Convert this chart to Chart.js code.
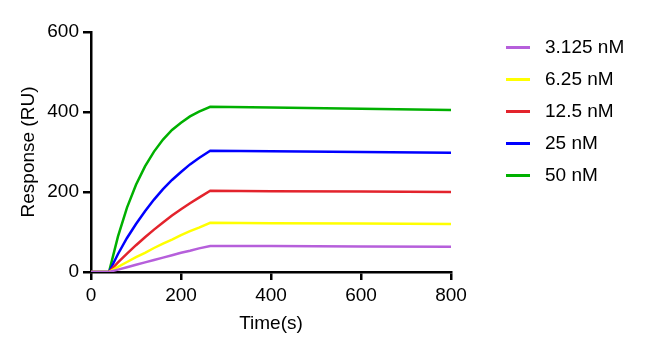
<!DOCTYPE html>
<html>
<head>
<meta charset="utf-8">
<script src="https://cdn.jsdelivr.net/npm/chart.js@4.4.1/dist/chart.umd.min.js"></script>
<style>
    html, body { margin: 0; padding: 0; background: #fff; }
    .wrap { position: relative; width: 648px; height: 354px; }
    .legend { position: absolute; left: 0; top: 0; font-family: Arial, "Liberation Sans", sans-serif; font-size: 19px; color: #000; }
    .legend .row { position: absolute; left: 506px; height: 24px; width: 140px; }
    .legend .swatch { position: absolute; left: 0; top: 11px; width: 24px; height: 2.5px; }
    .legend .txt { position: absolute; left: 39px; top: 0; line-height: 24px; white-space: nowrap; }
</style>
</head>
<body>
<div class="wrap">
    <canvas id="chart" width="648" height="354"></canvas>
    <div class="legend" id="legend"></div>
</div>
<script>
const TIMES = [0, 40, 60, 80, 100, 120, 140, 160, 180, 200, 220, 240, 265, 400, 600, 800];

const SERIES_LABELS = ['3.125 nM', '6.25 nM', '12.5 nM', '25 nM', '50 nM'];
const SERIES_COLORS = ['#b65fdb', '#ffff00', '#e3232c', '#0000ff', '#00b000'];

const RESP_3125 = [0, 0, 6, 12, 18, 24, 30, 36, 42, 48, 53, 59, 65, 65, 64, 63];
const RESP_625 = [0, 0, 13, 25, 37, 48, 60, 71, 81, 92, 102, 111, 123, 122, 121, 120];
const RESP_125 = [0, 0, 24, 46, 67, 87, 106, 124, 141, 157, 172, 186, 203, 202, 201, 200];
const RESP_25 = [0, 0, 45, 85, 120, 152, 181, 207, 230, 250, 269, 285, 303, 302, 300, 298];
const RESP_50 = [0, 0, 89, 161, 218, 264, 301, 331, 355, 373, 389, 401, 413, 411, 408, 405];

const X_TICKS = [0, 200, 400, 600, 800];
const Y_TICKS = [0, 200, 400, 600];

const FONT_FAMILY = 'Arial, "Liberation Sans", sans-serif';
const AXIS_WIDTH = 2.5;

const LEGEND_TOPS = [35, 67, 99, 131, 163];

function toPoints(values) {
    return TIMES.map((t, i) => ({ x: t, y: values[i] }));
}

function buildLegend() {
    const legend = document.getElementById('legend');
    SERIES_LABELS.forEach((label, i) => {
        const row = document.createElement('div');
        row.className = 'row';
        row.style.top = LEGEND_TOPS[i] + 'px';
        const swatch = document.createElement('div');
        swatch.className = 'swatch';
        swatch.style.background = SERIES_COLORS[i];
        const txt = document.createElement('div');
        txt.className = 'txt';
        txt.textContent = label;
        row.appendChild(swatch);
        row.appendChild(txt);
        legend.appendChild(row);
    });
}

function axisCommon() {
    return {
        type: 'linear',
        border: { display: true, color: '#000', width: AXIS_WIDTH },
        grid: {
            display: true,
            drawOnChartArea: false,
            drawTicks: true,
            tickLength: 8,
            color: '#000',
            lineWidth: AXIS_WIDTH
        },
        ticks: {
            color: '#000',
            font: { family: FONT_FAMILY, size: 19 }
        }
    };
}

function initChart() {
    const allSeries = [RESP_3125, RESP_625, RESP_125, RESP_25, RESP_50];

    const datasets = allSeries.map((values, i) => ({
        label: SERIES_LABELS[i],
        data: toPoints(values),
        borderColor: SERIES_COLORS[i],
        backgroundColor: SERIES_COLORS[i],
        borderWidth: 2.5,
        pointRadius: 0,
        fill: false,
        tension: 0
    }));

    const xAxis = axisCommon();
    xAxis.min = 0;
    xAxis.max = 800;
    xAxis.afterBuildTicks = scale => { scale.ticks = X_TICKS.map(v => ({ value: v })); };
    xAxis.ticks.padding = 4;
    xAxis.ticks.maxRotation = 0;
    xAxis.title = {
        display: true,
        text: 'Time(s)',
        color: '#000',
        font: { family: FONT_FAMILY, size: 19 },
        padding: { top: 0, bottom: 19 }
    };
    xAxis.afterFit = scale => { scale.height = 354 - 272; };

    const yAxis = axisCommon();
    yAxis.min = 0;
    yAxis.max = 600;
    yAxis.afterBuildTicks = scale => { scale.ticks = Y_TICKS.map(v => ({ value: v })); };
    yAxis.ticks.padding = 4;
    yAxis.title = {
        display: true,
        text: 'Response (RU)',
        color: '#000',
        font: { family: FONT_FAMILY, size: 19 },
        padding: { top: 17, bottom: 0 }
    };
    yAxis.afterFit = scale => { scale.width = 91; };

    const config = {
        type: 'line',
        data: { datasets },
        options: {
            responsive: false,
            animation: false,
            layout: { padding: { left: 0, right: 197, top: 32, bottom: 0 } },
            plugins: {
                legend: { display: false },
                tooltip: { enabled: false }
            },
            scales: { x: xAxis, y: yAxis }
        }
    };

    const ctx = document.getElementById('chart').getContext('2d');
    return new Chart(ctx, config);
}

buildLegend();
initChart();
</script>
</body>
</html>
